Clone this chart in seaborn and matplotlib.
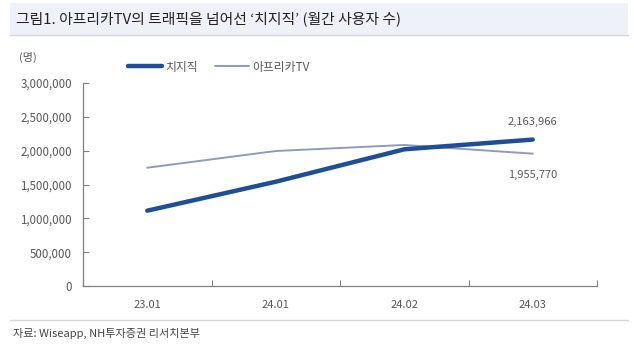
import matplotlib
matplotlib.use("Agg")
import matplotlib.pyplot as plt
import seaborn as sns
import pandas as pd
from matplotlib.lines import Line2D
from matplotlib.patches import Rectangle

sns.set_theme(style="white")
plt.rcParams['font.family'] = ['Noto Sans CJK KR', 'DejaVu Sans']

categories = ["23.01", "24.01", "24.02", "24.03"]
chzzk = [1113000, 1541000, 2020000, 2163966]
afreeca = [1748000, 1995000, 2084000, 1955770]
series_names = ["치지직", "아프리카TV"]
yticks = [0, 500000, 1000000, 1500000, 2000000, 2500000, 3000000]

df = pd.DataFrame({
    "x": list(range(len(categories))) * 2,
    "value": chzzk + afreeca,
    "series": [series_names[0]] * len(chzzk) + [series_names[1]] * len(afreeca),
})

txt = "#595959"
c1 = "#1F4E99"
c2 = "#8E9CBA"

fig = plt.figure(figsize=(6.34, 3.54), dpi=100)
# title band
fig.patches.append(Rectangle((10/634, 1 - 35/354), 618/634, 32/354, transform=fig.transFigure,
                             facecolor="#EEF2F8", edgecolor="none", zorder=0))
fig.add_artist(Line2D([10/634, 628/634], [1 - 35/354, 1 - 35/354], transform=fig.transFigure,
                      color="#D6D6D6", lw=1))
fig.text(16/634, 1 - 19/354, "그림1. 아프리카TV의 트래픽을 넘어선 ‘치지직’ (월간 사용자 수)",
         fontsize=10.7, color="#222222", va="center", ha="left")
# bottom line and source
fig.add_artist(Line2D([10/634, 628/634], [1 - 320/354, 1 - 320/354], transform=fig.transFigure,
                      color="#D6D6D6", lw=1))
fig.text(13/634, 1 - 333/354, "자료: Wiseapp, NH투자증권 리서치본부", fontsize=8,
         color="#444444", va="center", ha="left")
fig.text(28/634, 1 - 57/354, "(명)", fontsize=8, color=txt, va="center", ha="center")

ax = fig.add_axes([83/634, 1 - 286/354, 514/634, 203/354])
sns.lineplot(data=df[df.series == series_names[1]], x="x", y="value", ax=ax,
             color=c2, lw=1.4, legend=False)
sns.lineplot(data=df[df.series == series_names[0]], x="x", y="value", ax=ax,
             color=c1, lw=3.2, legend=False)

ax.set_xlim(-0.5, len(categories) - 0.5)
ax.set_ylim(0, 3000000)
ax.set_yticks(yticks)
ax.set_yticklabels([f"{v:,}" for v in yticks], fontsize=8.3, color=txt)
ax.set_xticks([i - 0.5 for i in range(len(categories) + 1)])
ax.set_xticklabels([])
ax.set_xticks(list(range(len(categories))), minor=True)
ax.set_xticklabels(categories, minor=True, fontsize=8, color=txt)
ax.tick_params(axis="x", which="minor", bottom=False, length=0, pad=10)
ax.tick_params(axis="x", which="major", bottom=True, direction="in", length=4,
               color="#808080", width=0.8)
ax.tick_params(axis="y", left=True, direction="in", length=4, color="#808080",
               width=0.8, pad=8)
ax.set_xlabel("")
ax.set_ylabel("")
for s in ["top", "right"]:
    ax.spines[s].set_visible(False)
for s in ["left", "bottom"]:
    ax.spines[s].set_color("#808080")
    ax.spines[s].set_linewidth(0.9)

ax.annotate(f"{chzzk[-1]:,}", (3, chzzk[-1]), xytext=(0, 13), textcoords="offset points",
            ha="center", va="center", fontsize=8, color=txt)
ax.annotate(f"{afreeca[-1]:,}", (3, afreeca[-1]), xytext=(0, -15), textcoords="offset points",
            ha="center", va="center", fontsize=8, color=txt)

handles = [Line2D([], [], color=c1, lw=3.2), Line2D([], [], color=c2, lw=1.4)]
fig.legend(handles, series_names, loc="center left", bbox_to_anchor=(117/634, 1 - 67/354),
           ncol=2, frameon=False, fontsize=8.5, handlelength=2.9, handletextpad=0.3,
           columnspacing=1.4, labelcolor=txt)

fig.savefig("out.png", dpi=100)
